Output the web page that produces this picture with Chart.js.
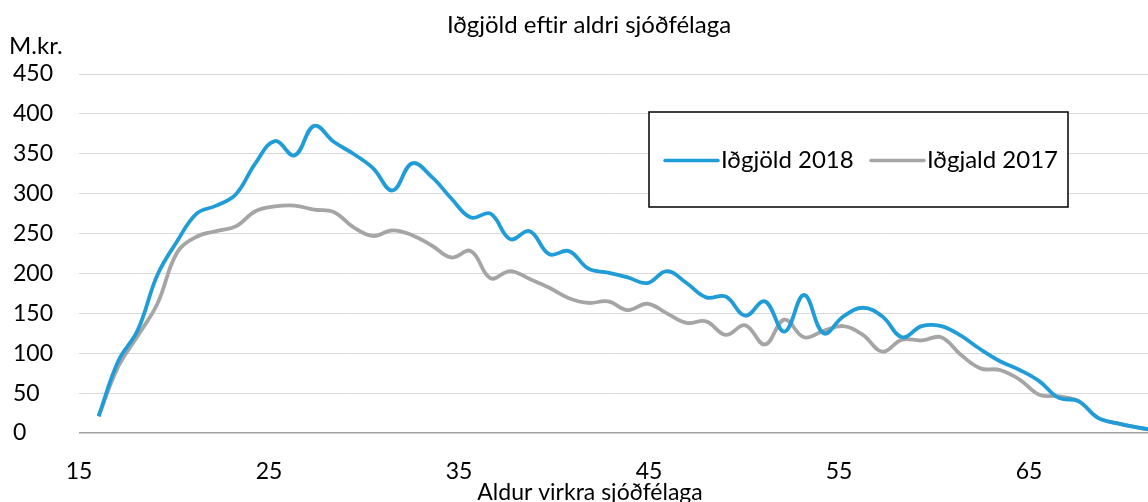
<!DOCTYPE html>
<html lang="is">
<head>
<meta charset="utf-8">
<title>Iðgjöld eftir aldri sjóðfélaga</title>
<script src="https://cdn.jsdelivr.net/npm/chart.js@4/dist/chart.umd.min.js"></script>
<style>
    html, body { margin: 0; padding: 0; background: #ffffff; }
    #wrap { width: 1148px; height: 502px; }
</style>
</head>
<body>
<div id="wrap"><canvas id="chart-container" width="1148" height="502"></canvas></div>
<script>
// Aldur sjóðfélaga (x) og iðgjöld í M.kr.
const ages = [16, 17, 18, 19, 20, 21, 22, 23, 24, 25, 26, 27, 28, 29, 30, 31, 32, 33, 34, 35,
    36, 37, 38, 39, 40, 41, 42, 43, 44, 45, 46, 47, 48, 49, 50, 51, 52, 53, 54, 55,
    56, 57, 58, 59, 60, 61, 62, 63, 64, 65, 66, 67, 68, 69, 70];
const premiums2018 = [21, 90, 129, 198, 240, 275, 285, 299, 338, 366, 348, 385, 365, 350, 332, 304, 338, 321, 294, 270,
    275, 243, 253, 224, 228, 206, 201, 195, 188, 203, 188, 170, 171, 147, 165, 127, 173, 125, 146, 157,
    146, 120, 134, 134, 122, 105, 90, 79, 65, 44, 40, 19, 12, 7, 3];
const premiums2017 = [21, 83, 122, 162, 226, 246, 253, 259, 278, 284, 285, 280, 277, 258, 247, 254, 248, 235, 220, 228,
    194, 203, 193, 182, 169, 163, 165, 154, 162, 150, 138, 140, 123, 135, 111, 142, 120, 128, 134, 123,
    102, 117, 116, 120, 98, 81, 79, 67, 48, 46, 40, 19, 12, 7, 3];
const seriesLabels = ['Iðgjöld 2018', 'Iðgjald 2017'];
const xTickValues = [15, 25, 35, 45, 55, 65];
const yTicks = [0, 50, 100, 150, 200, 250, 300, 350, 400, 450];

const chartTitle = 'Iðgjöld eftir aldri sjóðfélaga';
const yUnit = 'M.kr.';
const xTitle = 'Aldur virkra sjóðfélaga';

const FONT = 'Lato, "Noto Sans", sans-serif';

document.addEventListener('DOMContentLoaded', function() {
    const canvas = document.getElementById('chart-container');
    const ctx = canvas.getContext('2d');

    // Texts and the boxed legend drawn on top
    const extraText = {
        id: 'extraText',
        afterDraw(chart) {
            const c = chart.ctx;
            const w = chart.width;
            c.save();
            c.fillStyle = '#000000';
            c.textBaseline = 'middle';

            c.font = '24px ' + FONT;
            c.textAlign = 'center';
            c.fillText(chartTitle, w / 2 + 15, 25);

            c.font = '24px ' + FONT;
            c.textAlign = 'left';
            c.fillText(yUnit, 9, 46);

            c.font = '23px ' + FONT;
            c.textAlign = 'center';
            c.fillText(xTitle, w / 2 + 16, 493);

            // legend box
            const box = { left: 649, top: 112, right: 1068, bottom: 207 };
            c.fillStyle = '#ffffff';
            c.fillRect(box.left, box.top, box.right - box.left, box.bottom - box.top);
            c.strokeStyle = '#000000';
            c.lineWidth = 1.5;
            c.strokeRect(box.left, box.top, box.right - box.left, box.bottom - box.top);

            const midY = (box.top + box.bottom) / 2 + 1;
            const starts = [665, 871];
            c.font = '24px ' + FONT;
            c.textAlign = 'left';
            chart.data.datasets.forEach((ds, i) => {
                c.strokeStyle = ds.borderColor;
                c.lineWidth = 3.5;
                c.lineCap = 'round';
                c.beginPath();
                c.moveTo(starts[i], midY);
                c.lineTo(starts[i] + 53, midY);
                c.stroke();
                c.fillStyle = '#000000';
                c.fillText(ds.label, starts[i] + 56, midY);
            });
            c.restore();
        }
    };

    new Chart(ctx, {
        type: 'line',
        data: {
            datasets: [
                {
                    label: seriesLabels[0],
                    data: ages.map((a, i) => ({ x: a, y: premiums2018[i] })),
                    borderColor: '#209cd8',
                    borderWidth: 3.8,
                    pointRadius: 0,
                    tension: 0.4,
                    fill: false,
                    order: 1
                },
                {
                    label: seriesLabels[1],
                    data: ages.map((a, i) => ({ x: a, y: premiums2017[i] })),
                    borderColor: '#a5a5a5',
                    borderWidth: 3.8,
                    pointRadius: 0,
                    tension: 0.4,
                    fill: false,
                    order: 2
                }
            ]
        },
        options: {
            responsive: false,
            devicePixelRatio: 1,
            animation: false,
            layout: { padding: { left: 13, right: 0, top: 74, bottom: 0 } },
            scales: {
                x: {
                    type: 'linear',
                    display: false,
                    min: 15,
                    max: 69.55
                },
                xLabels: {
                    type: 'linear',
                    axis: 'x',
                    position: 'bottom',
                    min: 15,
                    max: 71.26,
                    afterBuildTicks: (scale) => {
                        scale.ticks = xTickValues.map(v => ({ value: v }));
                    },
                    afterFit: (scale) => { scale.height = 69; },
                    grid: { display: false, drawTicks: false },
                    border: { display: false },
                    ticks: {
                        color: '#000000',
                        font: { family: FONT, size: 23 },
                        padding: 25,
                        maxRotation: 0,
                        autoSkip: false
                    }
                },
                y: {
                    min: 0,
                    max: 450,
                    afterBuildTicks: (scale) => {
                        scale.ticks = yTicks.map(v => ({ value: v }));
                    },
                    afterFit: (scale) => { scale.width = 66; },
                    grid: {
                        drawTicks: false,
                        lineWidth: (c) => c.tick && c.tick.value === 0 ? 1.5 : 1,
                        color: (c) => c.tick && c.tick.value === 0 ? '#a0a0a0' : '#d9d9d9'
                    },
                    border: { display: false },
                    ticks: {
                        color: '#000000',
                        font: { family: FONT, size: 23 },
                        crossAlign: 'far',
                        padding: 8
                    }
                }
            },
            plugins: {
                legend: { display: false },
                title: { display: false },
                tooltip: { enabled: false }
            }
        },
        plugins: [extraText]
    });
});
</script>
</body>
</html>
